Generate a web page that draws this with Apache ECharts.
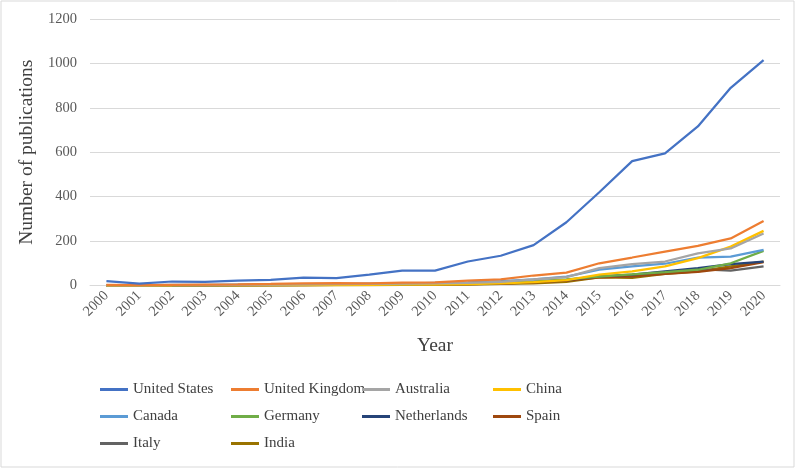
<!DOCTYPE html>
<html>
<head>
<meta charset="utf-8">
<script src="https://cdn.jsdelivr.net/npm/echarts@6/dist/echarts.min.js"></script>
<style>
html,body{margin:0;padding:0;background:#fff;}
#main{width:800px;height:469px;}
</style>
</head>
<body>
<div id="main"></div>
<script>
var years = ['2000','2001','2002','2003','2004','2005','2006','2007','2008','2009','2010',
	'2011','2012','2013','2014','2015','2016','2017','2018','2019','2020'];
var unitedStates = [20, 8, 18, 16, 22, 25, 35, 33, 49, 67, 67, 108, 134, 182, 285, 420, 560, 595, 716, 890, 1015];
var unitedKingdom = [3, 2, 3, 4, 5, 7, 10, 11, 10, 13, 14, 22, 28, 45, 58, 100, 126, 153, 178, 212, 290];
var australia = [1, 1, 2, 2, 3, 4, 5, 6, 7, 8, 10, 12, 16, 28, 38, 78, 96, 108, 145, 167, 234];
var china = [0, 0, 0, 1, 1, 1, 2, 2, 3, 4, 4, 6, 10, 15, 24, 49, 64, 86, 123, 175, 246];
var canada = [2, 2, 3, 3, 4, 5, 6, 6, 8, 9, 12, 14, 20, 28, 40, 71, 86, 98, 126, 130, 160];
var germany = [1, 1, 1, 2, 2, 3, 3, 4, 5, 6, 7, 9, 12, 18, 28, 40, 50, 60, 71, 100, 156];
var netherlands = [0, 1, 1, 1, 2, 2, 3, 3, 4, 5, 6, 8, 12, 17, 25, 41, 49, 64, 78, 96, 108];
var spain = [0, 0, 1, 1, 1, 2, 2, 3, 3, 4, 5, 6, 9, 14, 22, 37, 41, 52, 61, 78, 105];
var italy = [1, 1, 1, 1, 2, 2, 3, 3, 4, 5, 6, 7, 10, 15, 22, 41, 41, 56, 74, 67, 86];
var india = [0, 0, 0, 1, 1, 1, 1, 2, 2, 3, 3, 4, 7, 10, 16, 37, 34, 52, 64, 86, 108];

var names = ['United States','United Kingdom','Australia','China','Canada','Germany','Netherlands','Spain','Italy','India'];
var values = [unitedStates, unitedKingdom, australia, china, canada, germany, netherlands, spain, italy, india];
var colors = ['#4472C4','#ED7D31','#A5A5A5','#FFC000','#5B9BD5','#70AD47','#264478','#9E480E','#636363','#997300'];

var serif = '"Liberation Serif", "Times New Roman", serif';

var series = [];
for(var i = 0; i < names.length; i++){
	series.push({
		name: names[i],
		type: 'line',
		data: values[i],
		showSymbol: false,
		lineStyle: {width: 2.25, color: colors[i]},
		itemStyle: {color: colors[i]},
		z: 10 - i
	});
}

// four legend columns, like the excel layout
var legendCols = [
	['United States','Canada','Italy'],
	['United Kingdom','Germany','India'],
	['Australia','Netherlands'],
	['China','Spain']
];
var legendLeft = [95, 226, 357, 488];
var legends = [];
for(var c = 0; c < legendCols.length; c++){
	legends.push({
		data: legendCols[c],
		orient: 'vertical',
		left: legendLeft[c],
		top: 377,
		itemWidth: 28,
		itemHeight: 3,
		itemGap: 12,
		itemTextGap: 4,
		icon: 'rect',
		selectedMode: false,
		textStyle: {fontFamily: serif, fontSize: 15, color: '#404040'}
	});
}

var myChart = echarts.init(document.getElementById('main'));
var option = {
	animation: false,
	backgroundColor: '#fff',
	color: colors,
	graphic: [{
		type: 'rect',
		shape: {x: 1, y: 1, width: 793, height: 466},
		style: {fill: 'none', stroke: '#d9d9d9', lineWidth: 1}
	}],
	legend: legends,
	grid: {left: 90, right: 20, top: 19, bottom: 183.5},
	xAxis: {
		type: 'category',
		data: years,
		boundaryGap: true,
		name: 'Year',
		nameLocation: 'middle',
		nameGap: 50,
		nameTextStyle: {fontFamily: serif, fontSize: 19.5, color: '#404040'},
		axisLine: {lineStyle: {color: '#d9d9d9'}},
		axisTick: {show: false},
		axisLabel: {rotate: 45, interval: 0, margin: 8, fontFamily: serif, fontSize: 14.5, color: '#595959'}
	},
	yAxis: {
		type: 'value',
		min: 0,
		max: 1200,
		interval: 200,
		name: 'Number of publications',
		nameLocation: 'middle',
		nameGap: 46,
		nameTextStyle: {fontFamily: serif, fontSize: 19.5, color: '#404040'},
		axisLine: {show: false},
		axisTick: {show: false},
		axisLabel: {
			margin: 13, fontFamily: serif, fontSize: 14.5, color: '#595959',
			formatter: function(v){ return String(v); }
		},
		splitLine: {lineStyle: {color: '#d9d9d9'}}
	},
	series: series
};
myChart.setOption(option);
</script>
</body>
</html>
